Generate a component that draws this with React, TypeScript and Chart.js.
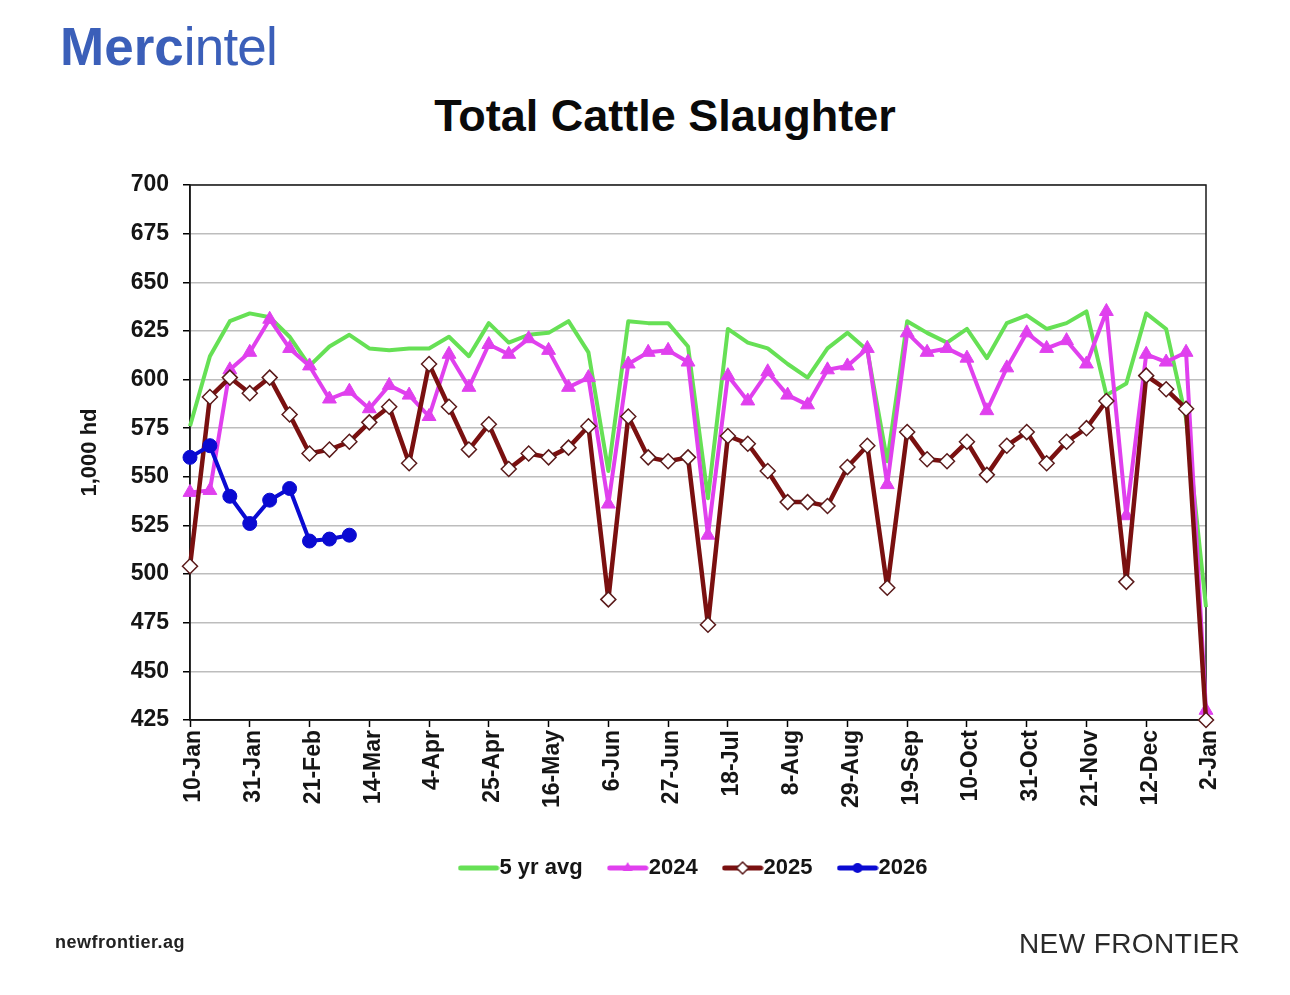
import { useEffect, useRef } from "react";
import { Chart, registerables } from "chart.js";
import type { ChartConfiguration, LegendItem, Plugin } from "chart.js";

Chart.register(...registerables);

// ---------------------------------------------------------------------------
// DATA (weekly, 1,000 head)
// ---------------------------------------------------------------------------
const WEEKS = [
  "10-Jan", "17-Jan", "24-Jan", "31-Jan", "7-Feb", "14-Feb", "21-Feb", "28-Feb",
  "7-Mar", "14-Mar", "21-Mar", "28-Mar", "4-Apr", "11-Apr", "18-Apr", "25-Apr",
  "2-May", "9-May", "16-May", "23-May", "30-May", "6-Jun", "13-Jun", "20-Jun",
  "27-Jun", "4-Jul", "11-Jul", "18-Jul", "25-Jul", "1-Aug", "8-Aug", "15-Aug",
  "22-Aug", "29-Aug", "5-Sep", "12-Sep", "19-Sep", "26-Sep", "3-Oct", "10-Oct",
  "17-Oct", "24-Oct", "31-Oct", "7-Nov", "14-Nov", "21-Nov", "28-Nov", "5-Dec",
  "12-Dec", "19-Dec", "26-Dec", "2-Jan",
];

const AVG_5YR = [
  576, 612, 630, 634, 632, 622, 607, 617, 623, 616, 615, 616, 616, 622, 612, 629,
  619, 623, 624, 630, 614, 553, 630, 629, 629, 617, 539, 626, 619, 616, 608, 601,
  616, 624, 615, 558, 630, 624, 619, 626, 611, 629, 633, 626, 629, 635, 592, 598,
  634, 626, 580, 483,
];

const Y2024 = [
  542, 543, 605, 614, 631, 616, 607, 590, 594, 585, 597, 592, 581, 613, 596, 618,
  613, 621, 615, 596, 601, 536, 608, 614, 615, 609, 520, 602, 589, 604, 592, 587,
  605, 607, 616, 546, 624, 614, 616, 611, 584, 606, 624, 616, 620, 608, 635, 530,
  613, 609, 614, 430,
];

const Y2025 = [
  504, 591, 601, 593, 601, 582, 562, 564, 568, 578, 586, 557, 608, 586, 564, 577,
  554, 562, 560, 565, 576, 487, 581, 560, 558, 560, 474, 571, 567, 553, 537, 537,
  535, 555, 566, 493, 573, 559, 558, 568, 551, 566, 573, 557, 568, 575, 589, 496,
  602, 595, 585, 425,
];

const Y2026 = [560, 566, 540, 526, 538, 544, 517, 518, 520];

const SERIES_LABELS = ["5 yr avg", "2024", "2025", "2026"];

const Y_MIN = 425;
const Y_MAX = 700;
const Y_STEP = 25;

// ---------------------------------------------------------------------------
// STYLE
// ---------------------------------------------------------------------------
const FONT = '"Liberation Sans", Arial, Helvetica, sans-serif';
const GREEN = "#66e055";
const MAGENTA = "#e040ee";
const MAROON = "#7a1010";
const BLUE = "#0a0ad2";
const TEXT = "#151515";

// legend glyph: short thick line with the series marker in the middle
const makeLegendGlyph = (
  color: string,
  marker: "none" | "triangle" | "diamond" | "circle"
): HTMLCanvasElement => {
  const c = document.createElement("canvas");
  c.width = 42;
  c.height = 18;
  const g = c.getContext("2d");
  if (!g) return c;
  g.strokeStyle = color;
  g.lineWidth = 5;
  g.lineCap = "round";
  g.beginPath();
  g.moveTo(3, 9);
  g.lineTo(39, 9);
  g.stroke();
  g.lineWidth = 1.5;
  if (marker === "triangle") {
    g.fillStyle = color;
    g.beginPath();
    g.moveTo(21, 3);
    g.lineTo(26, 12);
    g.lineTo(16, 12);
    g.closePath();
    g.fill();
  } else if (marker === "diamond") {
    g.fillStyle = "#fff";
    g.strokeStyle = "#5a1a1a";
    g.beginPath();
    g.moveTo(21, 3);
    g.lineTo(27, 9);
    g.lineTo(21, 15);
    g.lineTo(15, 9);
    g.closePath();
    g.fill();
    g.stroke();
  } else if (marker === "circle") {
    g.fillStyle = color;
    g.beginPath();
    g.arc(21, 9, 5, 0, Math.PI * 2);
    g.fill();
  }
  return c;
};

// box around the plot area, drawn under the lines
const plotFrame: Plugin<"line"> = {
  id: "plotFrame",
  beforeDatasetsDraw(chart) {
    const { ctx, chartArea: a } = chart;
    ctx.save();
    ctx.strokeStyle = "#1a1a1a";
    ctx.lineWidth = 1.5;
    ctx.strokeRect(a.left, a.top, a.right - a.left, a.bottom - a.top);
    ctx.restore();
  },
};

const createConfig = (glyphs: HTMLCanvasElement[]): ChartConfiguration<"line"> => ({
  type: "line",
  data: {
    labels: WEEKS,
    datasets: [
      {
        label: SERIES_LABELS[0],
        data: AVG_5YR,
        borderColor: GREEN,
        backgroundColor: GREEN,
        borderWidth: 4,
        borderJoinStyle: "round",
        pointRadius: 0,
        order: 4,
        clip: false,
      },
      {
        label: SERIES_LABELS[1],
        data: Y2024,
        borderColor: MAGENTA,
        backgroundColor: MAGENTA,
        borderWidth: 4,
        borderJoinStyle: "round",
        pointStyle: "triangle",
        pointRadius: 8,
        pointBorderWidth: 1,
        order: 3,
        clip: false,
      },
      {
        label: SERIES_LABELS[2],
        data: Y2025,
        borderColor: MAROON,
        backgroundColor: "#ffffff",
        borderWidth: 4.5,
        borderJoinStyle: "round",
        pointStyle: "rectRot",
        pointRadius: 7.5,
        pointBorderColor: "#5a1a1a",
        pointBorderWidth: 1.5,
        order: 2,
        clip: false,
      },
      {
        label: SERIES_LABELS[3],
        data: Y2026,
        borderColor: BLUE,
        backgroundColor: BLUE,
        borderWidth: 4,
        borderJoinStyle: "round",
        pointStyle: "circle",
        pointRadius: 7,
        pointBorderWidth: 1,
        order: 1,
        clip: false,
      },
    ],
  },
  options: {
    responsive: false,
    animation: false,
    layout: { padding: { left: 60, right: 84, top: 185, bottom: 106 } },
    plugins: {
      title: { display: false },
      tooltip: { enabled: false },
      legend: {
        position: "bottom",
        align: "center",
        fullSize: false,
        labels: {
          usePointStyle: true,
          pointStyleWidth: 20,
          padding: 35,
          color: TEXT,
          font: { family: FONT, size: 22, weight: "bold" },
          generateLabels: (chart): LegendItem[] =>
            chart.data.datasets.map((ds, i) => ({
              text: String(ds.label),
              pointStyle: glyphs[i],
              fillStyle: "rgba(0,0,0,0)",
              strokeStyle: "rgba(0,0,0,0)",
              lineWidth: 0,
              hidden: !chart.isDatasetVisible(i),
              datasetIndex: i,
              fontColor: TEXT,
            })),
        },
      },
    },
    scales: {
      x: {
        ticks: {
          autoSkip: false,
          maxRotation: 90,
          minRotation: 90,
          padding: 3,
          labelOffset: 4,
          color: TEXT,
          font: { family: FONT, size: 23, weight: "bold" },
          callback: (_v, i) => (i % 3 === 0 ? WEEKS[i] : ""),
        },
        grid: {
          drawOnChartArea: false,
          drawTicks: true,
          tickLength: 7,
          tickWidth: 1.5,
          tickColor: (c) => (c.index % 3 === 0 ? "#000" : "rgba(0,0,0,0)"),
        },
        border: { display: true, color: "#000", width: 1.5 },
        afterFit: (s) => {
          s.height = 102;
        },
      },
      y: {
        min: Y_MIN,
        max: Y_MAX,
        ticks: {
          stepSize: Y_STEP,
          padding: 14,
          color: TEXT,
          font: { family: FONT, size: 23, weight: "bold" },
        },
        grid: {
          color: "#bdbdbd",
          lineWidth: 1.5,
          tickLength: 7,
          tickWidth: 1.5,
          tickColor: "#000",
        },
        border: { display: true, color: "#000", width: 1.5 },
        title: {
          display: true,
          text: "1,000 hd",
          color: TEXT,
          font: { family: FONT, size: 22, weight: "bold" },
          padding: { top: 17, bottom: 0 },
        },
        afterFit: (s) => {
          s.width = 130;
        },
      },
    },
  },
  plugins: [plotFrame],
});

export default function App() {
  const canvasRef = useRef<HTMLCanvasElement>(null);
  const chartRef = useRef<Chart<"line"> | null>(null);

  useEffect(() => {
    if (!canvasRef.current) return;
    const glyphs = [
      makeLegendGlyph(GREEN, "none"),
      makeLegendGlyph(MAGENTA, "triangle"),
      makeLegendGlyph(MAROON, "diamond"),
      makeLegendGlyph(BLUE, "circle"),
    ];
    chartRef.current = new Chart(canvasRef.current, createConfig(glyphs));
    return () => {
      chartRef.current?.destroy();
      chartRef.current = null;
    };
  }, []);

  return (
    <div
      style={{
        position: "absolute",
        left: 0,
        top: 0,
        width: 1290,
        height: 995,
        overflow: "hidden",
        background: "#fff",
        fontFamily: FONT,
      }}
    >
      {/* logo */}
      <div
        style={{
          position: "absolute",
          left: 60,
          top: 20,
          fontSize: 53,
          lineHeight: "53px",
          color: "#3b5fb9",
          whiteSpace: "nowrap",
        }}
      >
        <span style={{ fontWeight: 700 }}>Merc</span>
        <span style={{ fontWeight: 400, letterSpacing: -0.8 }}>intel</span>
      </div>

      <div
        style={{
          position: "absolute",
          left: 0,
          width: 1330,
          top: 93,
          textAlign: "center",
          fontSize: 45,
          lineHeight: "45px",
          fontWeight: 700,
          color: "#0a0a0a",
        }}
      >
        Total Cattle Slaughter
      </div>

      <canvas
        ref={canvasRef}
        width={1290}
        height={995}
        style={{ position: "absolute", left: 0, top: 0, width: 1290, height: 995 }}
      />

      <div
        style={{
          position: "absolute",
          left: 55,
          top: 932,
          fontSize: 18,
          lineHeight: "20px",
          fontWeight: 700,
          color: "#222",
          letterSpacing: 0.5,
        }}
      >
        newfrontier.ag
      </div>

      <div
        style={{
          position: "absolute",
          left: 1019,
          top: 930,
          fontSize: 28,
          lineHeight: "28px",
          color: "#2a2a2a",
          whiteSpace: "nowrap",
          letterSpacing: 0.4,
        }}
      >
        NEW FRONTIER
      </div>
    </div>
  );
}
